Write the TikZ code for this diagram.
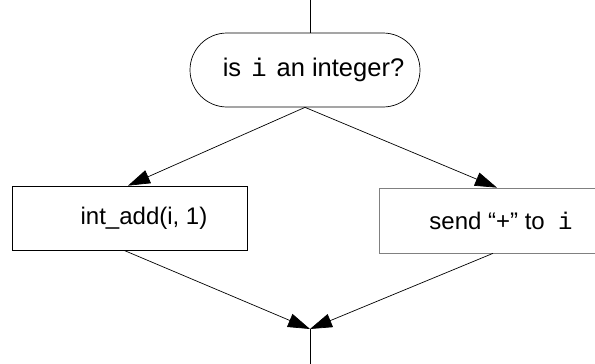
\documentclass[tikz,border=0pt]{standalone}
\usepackage{fontspec}
\setmainfont{Liberation Sans}
\setmonofont{Liberation Mono}
\usetikzlibrary{arrows.meta,shapes.misc}
\begin{document}
\begin{tikzpicture}[x=1pt,y=-1pt,
  every node/.style={font=\fontsize{24}{28}\selectfont},
  flow/.style={line width=0.7pt,draw=black},
  arr/.style={flow,-{Triangle[length=22pt,width=14pt]}},
  terminal/.style={draw,line width=0.7pt,rounded rectangle,minimum width=230pt,minimum height=74pt,inner sep=0pt,font=\fontsize{25.5}{30}\selectfont},
  procbox/.style={draw,line width=0.7pt,rectangle,inner sep=0pt},
]
\useasboundingbox (0,0) rectangle (595,364);

\coordinate (entry) at (310,0);
\node[terminal] (test) at (305,70) {\hspace*{17pt}is\hspace{3pt} \texttt{i}\hspace{3pt} an integer?};
\node[procbox,minimum width=235pt,minimum height=64pt] (addbox) at (129.5,218) {\hspace*{29pt}int\_add(i, 1)};
\node[procbox,draw=black!50,minimum width=242pt,minimum height=65pt] (sendbox) at (500,220.5) {\hspace*{2pt}send “+” to \ \texttt{i}};
\coordinate (merge) at (310,329);
\coordinate (exit) at (310,364);

\draw[flow] (entry) -- (entry |- test.north);
\draw[arr] (test.south) -- ([xshift=-1.5pt]addbox.north);
\draw[arr] (test.south) -- ([xshift=-3pt]sendbox.north);
\draw[arr] ([xshift=-5.5pt]addbox.south) -- (merge);
\draw[arr] ([xshift=-7pt]sendbox.south) -- (merge);
\draw[flow] (merge) -- (exit);
\end{tikzpicture}
\end{document}
